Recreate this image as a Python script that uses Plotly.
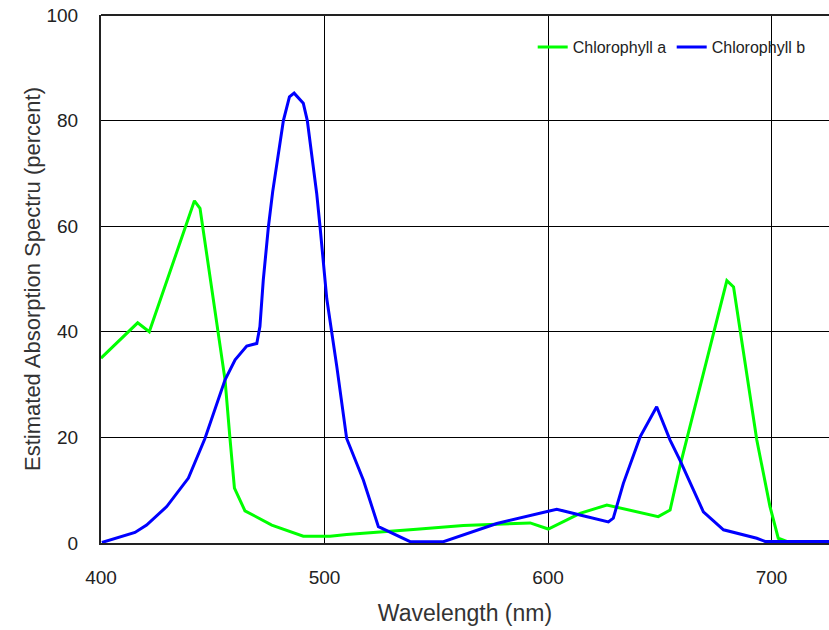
import plotly.graph_objects as go

chl_a_x = [400, 416.4, 421.6, 441.8, 444.3, 452.5, 455.5, 457.7, 459.7, 464.4, 476.4, 490.5,
           502.5, 509.9, 521.1, 541.2, 562.1, 592, 600.1, 614.3, 626.3, 649.3, 654.6, 659,
           680, 683, 693.4, 699.3, 703, 706.8, 726]
chl_a_y = [35.0, 41.7, 40.0, 64.8, 63.4, 40.0, 30.9, 19.8, 10.4, 6.1, 3.4, 1.3,
           1.3, 1.6, 2.0, 2.6, 3.3, 3.8, 2.65, 5.6, 7.2, 5.0, 6.25, 14.5,
           49.7, 48.5, 19.5, 6.9, 0.9, 0.3, 0.2]

chl_b_x = [400.4, 408.5, 415.2, 420.4, 429.4, 439.1, 446.5, 455.5, 460, 465.2, 469.7, 471.1,
           472.6, 474.9, 476.8, 481.6, 484.3, 486.4, 490.5, 492.3, 496.5, 498, 501, 505.5,
           509.9, 517.4, 524.1, 538.3, 553.2, 577.1, 597.9, 603.9, 614.3, 627, 629.2, 633.7,
           641.2, 648.6, 654.6, 659, 669.5, 678.5, 693.4, 697.1, 726]
chl_b_y = [0.1, 1.2, 2.0, 3.4, 6.9, 12.3, 19.8, 30.9, 34.7, 37.3, 37.8, 41.0,
           49.8, 59.9, 66.5, 80.0, 84.5, 85.2, 83.3, 80.0, 66.2, 59.9, 46.3, 33.4,
           19.8, 11.9, 3.1, 0.25, 0.25, 3.7, 5.9, 6.4, 5.3, 4.0, 4.7, 11.3,
           20.1, 25.8, 19.5, 15.7, 5.9, 2.5, 0.9, 0.3, 0.3]

x_ticks = [400, 500, 600, 700]
y_ticks = [0, 20, 40, 60, 80, 100]

fig = go.Figure()
fig.add_trace(go.Scatter(x=chl_a_x, y=chl_a_y, mode="lines", name="Chlorophyll a",
                         line=dict(color="#00ff00", width=3)))
fig.add_trace(go.Scatter(x=chl_b_x, y=chl_b_y, mode="lines", name="Chlorophyll b",
                         line=dict(color="#0000ff", width=3)))

fig.update_layout(
    width=829, height=630,
    margin=dict(l=101, r=0, t=15, b=87),
    paper_bgcolor="white", plot_bgcolor="white",
    font=dict(family="Liberation Sans, Arial, sans-serif", color="#333333"),
    showlegend=True,
    legend=dict(orientation="h", x=0.593, y=0.939, xanchor="left", yanchor="middle",
                bgcolor="rgba(0,0,0,0)", font=dict(size=16, color="#222222"),
                itemwidth=30, tracegroupgap=0, entrywidth=94, entrywidthmode="pixels"),
    xaxis=dict(range=[400, 725.7], tickvals=x_ticks, showgrid=True, gridcolor="black",
               gridwidth=1, showline=True, linecolor="#222222", linewidth=2,
               ticks="outside", ticklen=16, tickcolor="rgba(0,0,0,0)",
               tickfont=dict(size=19, color="#222222"), zeroline=False,
               title=dict(text="Wavelength (nm)", font=dict(size=23, color="#333333"), standoff=18)),
    yaxis=dict(range=[0, 100], tickvals=y_ticks, showgrid=True, gridcolor="black",
               gridwidth=1, showline=True, linecolor="#222222", linewidth=2,
               ticks="outside", ticklen=17, tickcolor="rgba(0,0,0,0)",
               tickfont=dict(size=19, color="#222222"), zeroline=False,
               title=dict(text="Estimated Absorption Spectru (percent)",
                          font=dict(size=22, color="#333333"), standoff=0)),
)
fig.add_shape(type="line", xref="paper", yref="paper", x0=0, x1=1, y0=1, y1=1,
              line=dict(color="#222222", width=2))
fig.write_html("out.html")
